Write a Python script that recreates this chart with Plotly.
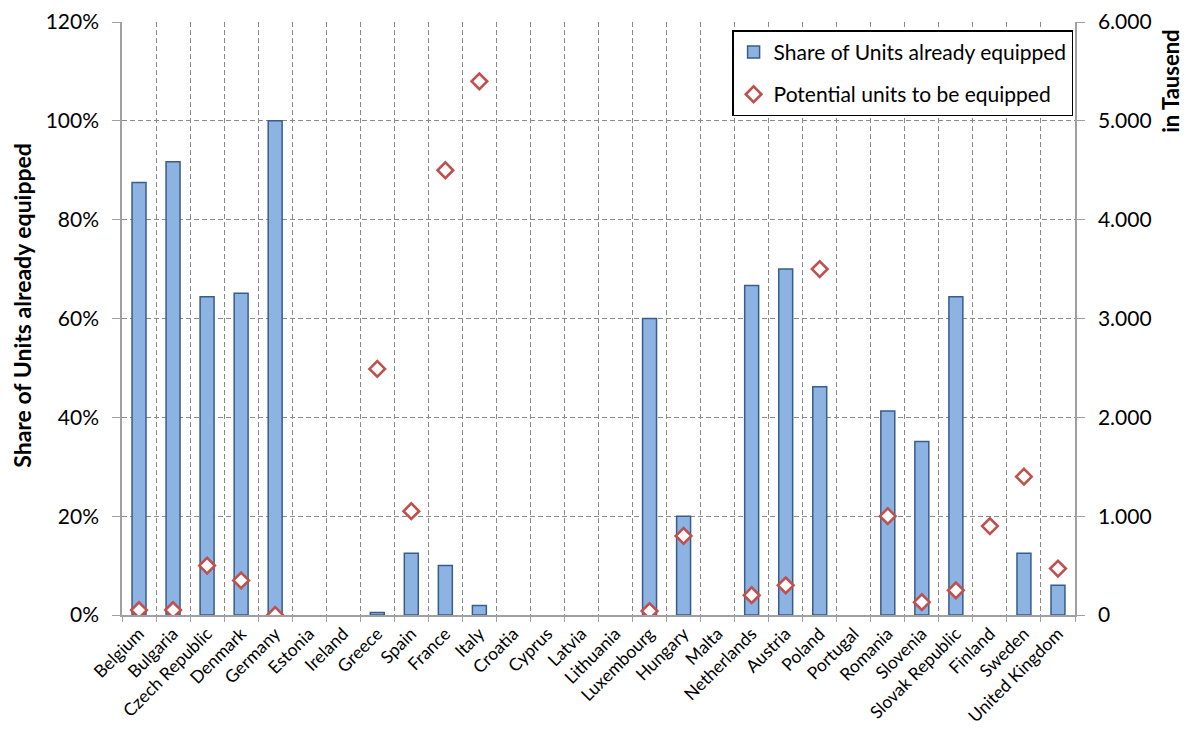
import plotly.graph_objects as go

countries = [
    "Belgium", "Bulgaria", "Czech Republic", "Denmark", "Germany", "Estonia",
    "Ireland", "Greece", "Spain", "France", "Italy", "Croatia", "Cyprus",
    "Latvia", "Lithuania", "Luxembourg", "Hungary", "Malta", "Netherlands",
    "Austria", "Poland", "Portugal", "Romania", "Slovenia", "Slovak Republic",
    "Finland", "Sweden", "United Kingdom",
]

# Share of units already equipped (fraction)
share_equipped = [
    0.875, 0.917, 0.644, 0.651, 1.00, None,
    None, 0.005, 0.125, 0.10, 0.019, None, None,
    None, None, 0.60, 0.20, None, 0.667,
    0.70, 0.462, None, 0.413, 0.351, 0.644,
    None, 0.125, 0.06,
]

# Potential units to be equipped (thousands)
potential_units = [
    50, 50, 500, 350, 0, None,
    None, 2490, 1050, 4500, 5400, None, None,
    None, None, 40, 800, None, 200,
    300, 3500, None, 1000, 130, 250,
    900, 1400, 470,
]

FONT = "Lato"
GRID = "#8a8a8a"
AXIS = "#a0a0a0"
DASH = "5px,3px"

fig = go.Figure()

fig.add_trace(go.Bar(
    x=countries, y=share_equipped,
    name="Share of Units already equipped",
    marker=dict(color="#8db3e2", line=dict(color="#385d8a", width=1.5)),
    width=0.41,
    legendgroup="a",
))

fig.add_trace(go.Scatter(
    x=countries, y=potential_units,
    name="Potential units to be equipped",
    mode="markers",
    yaxis="y2",
    marker=dict(symbol="diamond", size=12, color="white",
                line=dict(color="#c0504d", width=2.6)),
    legendgroup="b",
))

fig.update_layout(
    width=1186, height=731,
    margin=dict(l=122, r=111, t=22, b=116),
    paper_bgcolor="white", plot_bgcolor="white",
    font=dict(family=FONT, color="black"),
    separators=",.",
    bargap=0.59,
    showlegend=True,
    legend=dict(
        x=0.998, y=0.986, xanchor="right", yanchor="top",
        bordercolor="black", borderwidth=1.5, bgcolor="white",
        font=dict(family=FONT, size=21),
        traceorder="grouped", tracegroupgap=12,
    ),
    xaxis=dict(
        type="category",
        automargin=False,
        tickangle=-45,
        tickfont=dict(family=FONT, size=17.5),
        showgrid=True, gridcolor=GRID, griddash=DASH, gridwidth=1,
        tickson="boundaries",
        ticks="outside", ticklen=5, tickcolor=AXIS,
        showline=True, linecolor=AXIS, linewidth=1.5,
        range=[-0.5, 27.5],
    ),
    yaxis=dict(
        automargin=False,
        range=[0, 1.2], dtick=0.2, tickformat=".0%",
        tickfont=dict(family=FONT, size=21),
        showgrid=True, gridcolor=GRID, griddash=DASH, gridwidth=1,
        ticks="outside", ticklen=8, tickcolor=AXIS,
        ticklabelstandoff=9,
        showline=True, linecolor=AXIS, linewidth=1.5,
        zeroline=False,
    ),
    yaxis2=dict(
        automargin=False,
        overlaying="y", side="right",
        range=[0, 6000], dtick=1000, tickformat=",d",
        tickfont=dict(family=FONT, size=21),
        showgrid=False,
        ticks="outside", ticklen=8, tickcolor=AXIS,
        ticklabelstandoff=9,
        showline=True, linecolor=AXIS, linewidth=1.5,
        zeroline=False,
    ),
    annotations=[
        dict(text="<b>Share of Units already equipped</b>",
             xref="paper", yref="paper", x=-0.105, y=0.523,
             xanchor="center", yanchor="middle",
             textangle=-90, showarrow=False,
             font=dict(family=FONT, size=23)),
        dict(text="<b>in Tausend</b>",
             xref="paper", yref="paper", x=1.1, y=0.99,
             xanchor="center", yanchor="top",
             textangle=-90, showarrow=False,
             font=dict(family=FONT, size=22)),
    ],
)

fig.write_html("out.html")
